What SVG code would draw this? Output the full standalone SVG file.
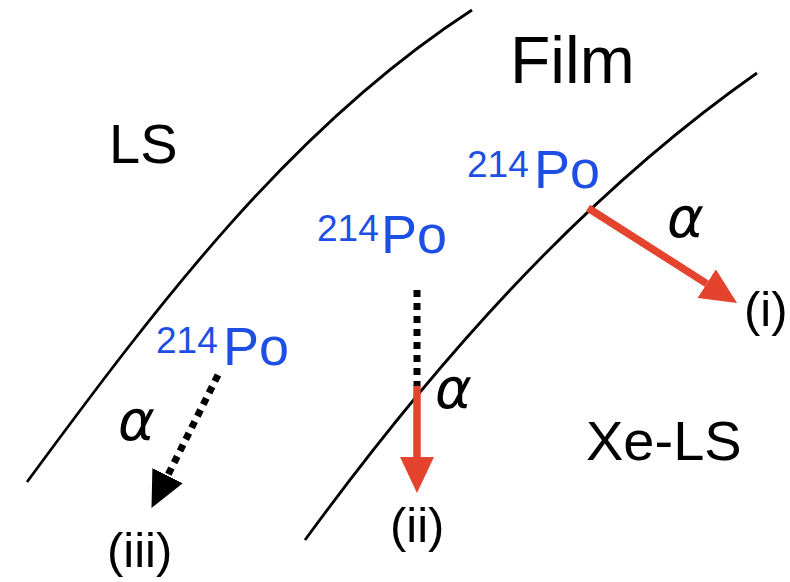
<svg xmlns="http://www.w3.org/2000/svg" width="790" height="582" viewBox="0 0 790 582">
<style>
.bound{fill:none;stroke:#000;stroke-width:2.8}
.lbl{font-family:"Liberation Sans",Arial,sans-serif;fill:#000}
.po{font-family:"Liberation Sans",Arial,sans-serif;fill:#1E4FE4}
.alpha{font-family:"DejaVu Sans",sans-serif;font-style:italic;font-size:56px;fill:#000}
.red{stroke:#E4432D;stroke-width:7.5;fill:none}
.dot{stroke:#000;stroke-width:7;fill:none;stroke-dasharray:7 6}
</style>
<defs>
<marker id="redHead" markerUnits="userSpaceOnUse" markerWidth="36" markerHeight="34" viewBox="0 0 36 34" refX="0" refY="17" orient="auto">
<path d="M0,0 L36,17 L0,34 Z" fill="#E4432D"/>
</marker>
<marker id="blackHead" markerUnits="userSpaceOnUse" markerWidth="36" markerHeight="34" viewBox="0 0 36 34" refX="0" refY="17" orient="auto">
<path d="M0,0 L36,17 L0,34 Z" fill="#000"/>
</marker>
</defs>
<g id="boundaries">
<path class="bound" d="M27,482 C156,307 290,128 472,10"/>
<path class="bound" d="M305,540 C433,365 579,198 757,73"/>
</g>
<g id="region-labels">
<text class="lbl" x="109" y="163" font-size="56">LS</text>
<text class="lbl" x="510" y="83" font-size="66">Film</text>
<text class="lbl" x="586" y="460" font-size="56">Xe-LS</text>
</g>
<g id="po-left">
<text class="po" x="156" y="353" font-size="37">214</text>
<text class="po" x="223" y="365" font-size="54">Po</text>
</g>
<g id="po-middle">
<text class="po" x="317" y="241" font-size="37">214</text>
<text class="po" x="381" y="253" font-size="54">Po</text>
</g>
<g id="po-right">
<text class="po" x="467" y="177" font-size="37">214</text>
<text class="po" x="534" y="188" font-size="54">Po</text>
</g>
<g id="connectors">
<line class="red" x1="588" y1="208" x2="706.7" y2="283.6" marker-end="url(#redHead)"/>
<line class="dot" x1="417" y1="290" x2="417" y2="387"/>
<line class="red" x1="417" y1="386" x2="417" y2="457" marker-end="url(#redHead)"/>
<line class="dot" x1="218" y1="375" x2="167.6" y2="475.7" marker-end="url(#blackHead)"/>
</g>
<g id="alpha-labels">
<text class="alpha" x="118" y="440">α</text>
<text class="alpha" x="435" y="408">α</text>
<text class="alpha" x="667" y="237">α</text>
</g>
<g id="outcome-labels">
<text class="lbl" x="744" y="326" font-size="49">(i)</text>
<text class="lbl" x="390" y="542" font-size="49">(ii)</text>
<text class="lbl" x="107" y="567" font-size="49">(iii)</text>
</g>
</svg>
